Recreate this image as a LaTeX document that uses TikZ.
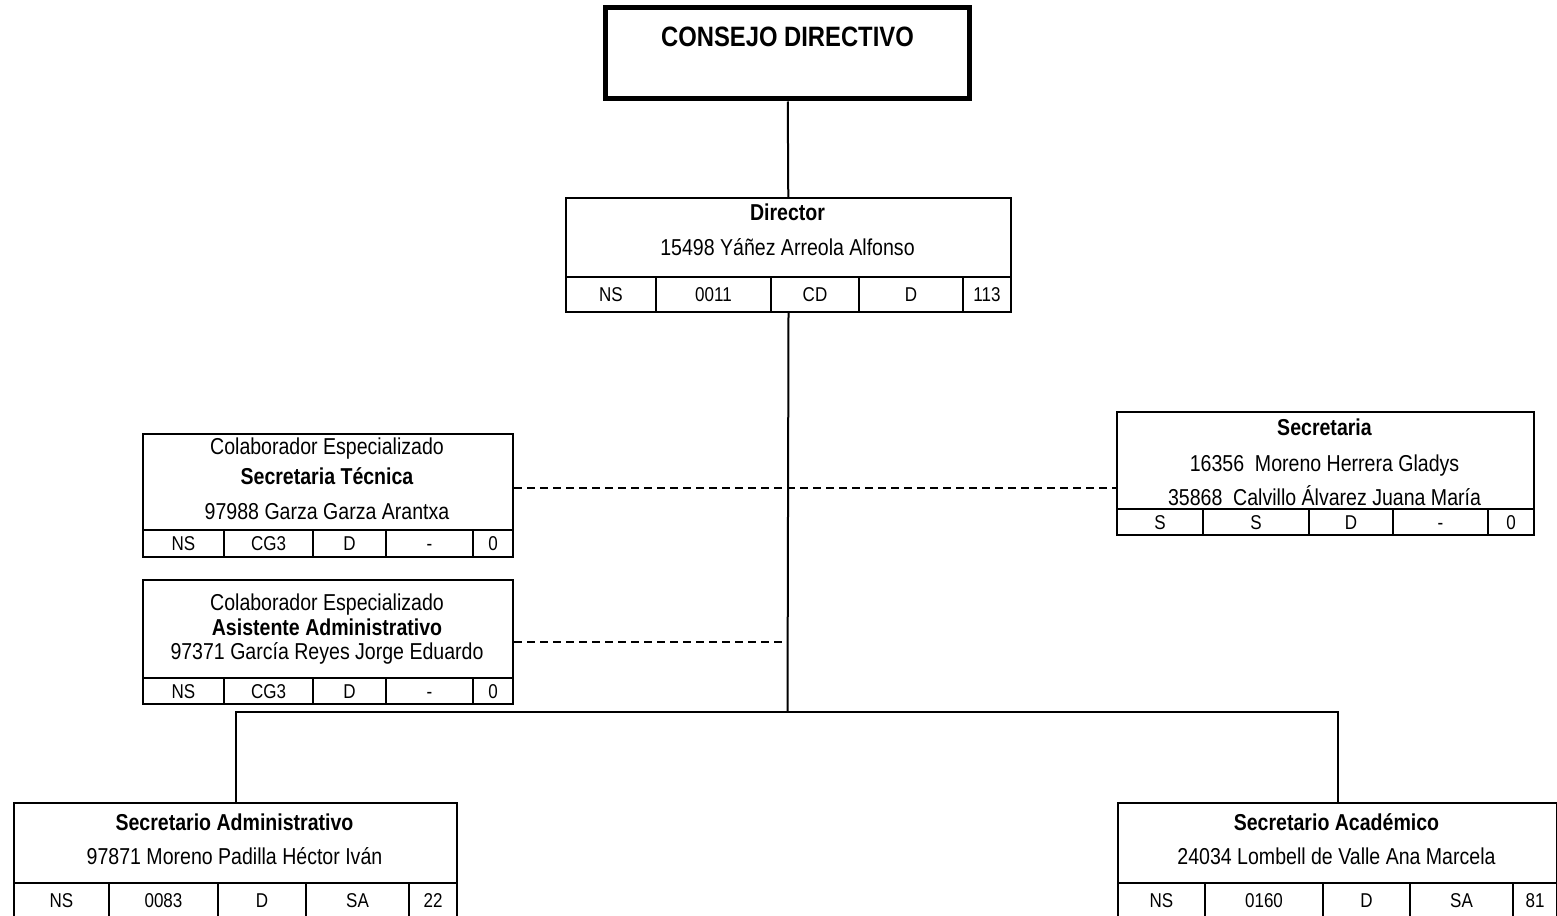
\documentclass[tikz,border=0pt]{standalone}
\usepackage{fontspec}
\setmainfont[FakeStretch=0.85]{Liberation Sans}

\begin{document}
\begin{tikzpicture}[x=1pt,y=-1pt,
  box/.style={draw, line width=2pt, inner sep=0pt, anchor=north west},
  cell/.style={draw, line width=2pt, inner sep=0pt, anchor=north west, text height=14.3pt, text depth=0pt, font=\fontsize{20}{24}\selectfont},
  txt/.style={inner sep=0pt, text height=16.5pt, text depth=0pt, font=\fontsize{23}{27}\selectfont},
  ttl/.style={txt, font=\fontsize{23}{27}\selectfont\bfseries},
  link/.style={line width=2pt},
  aux/.style={line width=1.5pt, dash pattern=on 8pt off 5pt}]
\path[use as bounding box, clip] (0,0) rectangle (1557,915);

\node[box, line width=5pt, minimum width=364pt, minimum height=91pt, anchor=center] (consejo) at (787.5,53.5) {};
\node[txt, text height=20pt, font=\fontsize{28}{32}\selectfont\bfseries] (consejoT) at (787.5,37) {CONSEJO DIRECTIVO};

\node[box, minimum width=445pt, minimum height=79pt] (dir) at (565,197) {};
\node[ttl] (dirT) at (787.5,212) {Director};
\node[txt] (dirN) at (787.5,247) {15498 Yáñez Arreola Alfonso};
\foreach \x/\w/\t [count=\i] in {565/90/NS, 655/115/0011, 770/88/CD, 858/104/D, 962/48/113}
  \node[cell, minimum width=\w pt, minimum height=35pt] (dir\i) at (\x,276) {\t};

\node[box, minimum width=370pt, minimum height=96pt] (st) at (142,433) {};
\node[txt] (stA) at (327,446) {Colaborador Especializado};
\node[ttl] (stT) at (327,476) {Secretaria Técnica};
\node[txt] (stN) at (327,511) {97988 Garza Garza Arantxa};
\foreach \x/\w/\t [count=\i] in {142/81/NS, 223/89/CG3, 312/73/D, 385/87/-, 472/40/0}
  \node[cell, minimum width=\w pt, minimum height=27pt] (st\i) at (\x,529) {\t};

\node[box, minimum width=370pt, minimum height=98pt] (aa) at (142,579) {};
\node[txt] (aaA) at (327,602) {Colaborador Especializado};
\node[ttl] (aaT) at (327,627) {Asistente Administrativo};
\node[txt] (aaN) at (327,651) {97371 García Reyes Jorge Eduardo};
\foreach \x/\w/\t [count=\i] in {142/81/NS, 223/89/CG3, 312/73/D, 385/87/-, 472/40/0}
  \node[cell, minimum width=\w pt, minimum height=26pt] (aa\i) at (\x,677) {\t};

\node[box, minimum width=417pt, minimum height=97pt] (sec) at (1116,411) {};
\node[ttl] (secT) at (1324.5,427) {Secretaria};
\node[txt] (secN) at (1324.5,463) {16356~ Moreno Herrera Gladys};
\node[txt] (secM) at (1324.5,497) {35868~ Calvillo Álvarez Juana María};
\foreach \x/\w/\t [count=\i] in {1116/86/S, 1202/106/S, 1308/84/D, 1392/95/-, 1487/46/0}
  \node[cell, minimum width=\w pt, minimum height=26pt] (sec\i) at (\x,508) {\t};

\node[box, minimum width=443pt, minimum height=80pt] (sadm) at (13,802) {};
\node[ttl] (sadmT) at (234.5,822) {Secretario Administrativo};
\node[txt] (sadmN) at (234.5,856) {97871 Moreno Padilla Héctor Iván};
\foreach \x/\w/\t [count=\i] in {13/95/NS, 108/109/0083, 217/88/D, 305/103/SA, 408/48/22}
  \node[cell, minimum width=\w pt, minimum height=35pt] (sadm\i) at (\x,882) {\t};

\node[box, minimum width=439pt, minimum height=80pt] (saca) at (1117,802) {};
\node[ttl] (sacaT) at (1336.5,822) {Secretario Académico};
\node[txt] (sacaN) at (1336.5,856) {24034 Lombell de Valle Ana Marcela};
\foreach \x/\w/\t [count=\i] in {1117/87/NS, 1204/118/0160, 1322/87/D, 1409/103/SA, 1512/44/81}
  \node[cell, minimum width=\w pt, minimum height=35pt] (saca\i) at (\x,882) {\t};

\coordinate (bus) at (787.5,712);
\draw[link] (consejo) -- (dir);
\draw[link] (dir3.south -| dir) -- (bus);
\draw[link] (sadm) |- (bus) -| (saca);

\coordinate (d1) at ([yshift=-6pt]st.east);
\draw[aux] (d1) -- (d1 -| sec.west);
\coordinate (d2) at ([yshift=-13pt]aa.east);
\draw[aux] (d2) -- (d2 -| bus);
\end{tikzpicture}
\end{document}
